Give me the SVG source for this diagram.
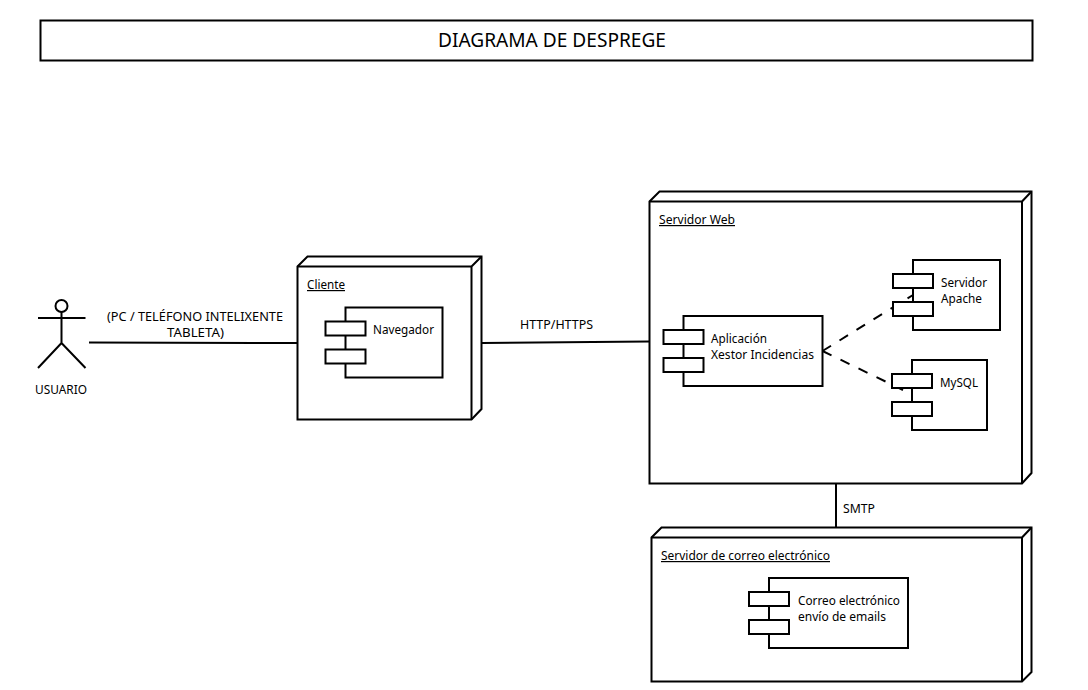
<svg xmlns="http://www.w3.org/2000/svg" width="1088" height="690" viewBox="0 0 1088 690">
<style>
text{font-family:"Noto Sans","DejaVu Sans",sans-serif;font-size:12px;fill:#000}
.s{fill:#fff;stroke:#000;stroke-width:2}
.l{fill:none;stroke:#000;stroke-width:2}
.d{fill:none;stroke:#000;stroke-width:2;stroke-dasharray:10 10}
.u{text-decoration:underline}
</style>
<rect width="1088" height="690" fill="#fff"/>
<g id="title"><rect class="s" x="40.500" y="20.500" width="992" height="40"/><text x="438" y="47" style="font-size:20px" textLength="228" lengthAdjust="spacingAndGlyphs">DIAGRAMA DE DESPREGE</text></g>
<g id="usuario"><circle class="l" cx="61.500" cy="306" r="6"/><path class="l" d="M61.500 312V343M38 318H85.500M38 368L61.500 343L85.500 368"/><text x="35" y="394" textLength="52" lengthAdjust="spacingAndGlyphs">USUARIO</text></g>
<g id="cliente"><path class="s" d="M297.500 266.500L307.500 256.500H481.500V409L471.500 419.500H297.500Z"/><path class="l" d="M297.500 266.500H471.500V419.500M471.500 266.500L481.500 256.500"/><text class="u" x="307" y="289" textLength="38" lengthAdjust="spacingAndGlyphs">Cliente</text></g>
<g id="servidor-web"><path class="s" d="M649.500 201.500L659.500 191.500H1031.500V473L1022 483.500H649.500Z"/><path class="l" d="M649.500 201.500H1022V483.500M1022 201.500L1031.500 191.500"/><text class="u" x="659" y="224" textLength="76" lengthAdjust="spacingAndGlyphs">Servidor Web</text></g>
<g id="servidor-correo"><path class="s" d="M651.500 537.500L661.500 527.500H1031.500V672L1022 681.500H651.500Z"/><path class="l" d="M651.500 537.500H1022V681.500M1022 537.500L1031.500 527.500"/><text class="u" x="661" y="560" textLength="169" lengthAdjust="spacingAndGlyphs">Servidor de correo electrónico</text></g>
<g id="connectors">
<path class="l" d="M89 342.500L297 343"/>
<path class="l" d="M482 343L649 341.500"/>
<path class="l" d="M836 483.500V527"/>
<path class="d" d="M822.500 351L913 295"/>
<path class="d" d="M822.500 351L903 390"/>
<text x="107" y="321" textLength="176" lengthAdjust="spacingAndGlyphs">(PC / TELÉFONO INTELIXENTE</text>
<text x="167" y="337" textLength="57" lengthAdjust="spacingAndGlyphs">TABLETA)</text>
<text x="520" y="329" textLength="73" lengthAdjust="spacingAndGlyphs">HTTP/HTTPS</text>
<text x="843" y="513" textLength="32" lengthAdjust="spacingAndGlyphs">SMTP</text>
</g>
<g id="navegador"><rect class="s" x="345.500" y="307.500" width="97" height="70"/><rect class="s" x="325.500" y="321.500" width="40" height="14"/><rect class="s" x="325.500" y="349.500" width="40" height="14"/><text x="373" y="334" textLength="61" lengthAdjust="spacingAndGlyphs">Navegador</text></g>
<g id="aplicacion"><rect class="s" x="683.500" y="316" width="139" height="70"/><rect class="s" x="663.500" y="330" width="40" height="14"/><rect class="s" x="663.500" y="358" width="40" height="14"/><text x="711" y="343" textLength="56" lengthAdjust="spacingAndGlyphs">Aplicación</text><text x="711" y="359" textLength="103" lengthAdjust="spacingAndGlyphs">Xestor Incidencias</text></g>
<g id="apache"><rect class="s" x="913" y="260" width="87" height="70"/><rect class="s" x="893" y="274" width="40" height="14"/><rect class="s" x="893" y="302" width="40" height="14"/><text x="941" y="287" textLength="46" lengthAdjust="spacingAndGlyphs">Servidor</text><text x="941" y="303" textLength="41" lengthAdjust="spacingAndGlyphs">Apache</text></g>
<g id="mysql"><rect class="s" x="912" y="360" width="75" height="70"/><rect class="s" x="892" y="374" width="40" height="14"/><rect class="s" x="892" y="402" width="40" height="14"/><text x="940" y="387" textLength="38" lengthAdjust="spacingAndGlyphs">MySQL</text></g>
<g id="correo"><rect class="s" x="769" y="578" width="139" height="70"/><rect class="s" x="749" y="592" width="40" height="14"/><rect class="s" x="749" y="620" width="40" height="14"/><text x="798" y="605" textLength="102" lengthAdjust="spacingAndGlyphs">Correo electrónico</text><text x="798" y="621" textLength="88" lengthAdjust="spacingAndGlyphs">envío de emails</text></g>
</svg>
